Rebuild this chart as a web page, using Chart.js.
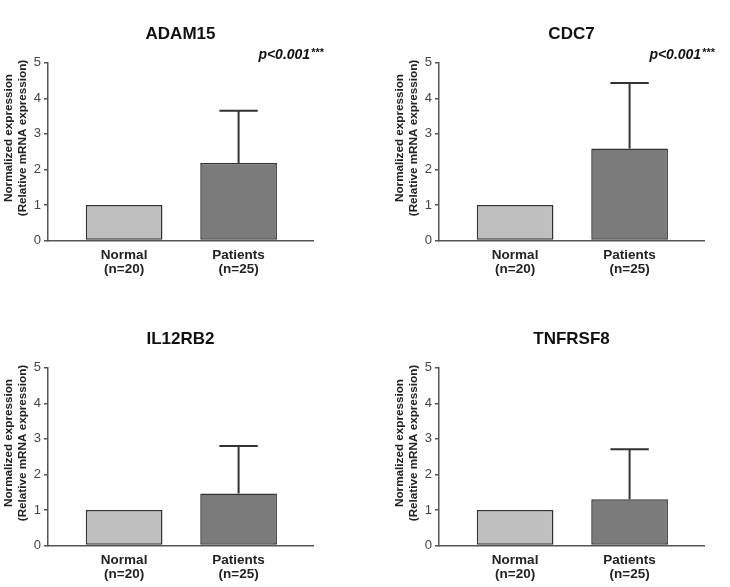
<!DOCTYPE html>
<html>
<head>
<meta charset="utf-8">
<script src="https://cdn.jsdelivr.net/npm/chart.js@4.4.1/dist/chart.umd.min.js"></script>
<style>
  body { margin: 0; background: #fff; width: 730px; height: 587px; overflow: hidden; position: relative; }
  canvas { position: absolute; }
</style>
</head>
<body>
<canvas id="c0" width="335" height="282" style="left:0;top:0"></canvas>
<canvas id="c1" width="335" height="282" style="left:391px;top:0"></canvas>
<canvas id="c2" width="335" height="282" style="left:0;top:305px"></canvas>
<canvas id="c3" width="335" height="282" style="left:391px;top:305px"></canvas>
<script>
// chart data
const panelTitles = ['ADAM15', 'CDC7', 'IL12RB2', 'TNFRSF8'];
const groupLabels = [['Normal', '(n=20)'], ['Patients', '(n=25)']];
const groupPositions = [1, 2];
const meanValues = [
  [1, 2.18],
  [1, 2.59],
  [1, 1.46],
  [1, 1.30]
];
const sdValues = [
  [0, 1.47],
  [0, 1.84],
  [0, 1.34],
  [0, 1.41]
];
const pValueLabels = ['p<0.001', 'p<0.001', '', ''];
const yTicks = [0, 1, 2, 3, 4, 5];
const yTitleLines = ['Normalized expression', '(Relative mRNA expression)'];

const FONT = 'Arial, "Liberation Sans", sans-serif';
const barColors = ['#bfbfbf', '#7b7b7b'];
const inkColor = '#333';

// panel title, y title, p-value and error bars
const decorPlugin = {
  id: 'decor',
  afterDatasetsDraw(chart, args, opts) {
    const ctx = chart.ctx;
    const area = chart.chartArea;
    const xs = chart.scales.x;
    const ys = chart.scales.y;
    const meta = chart.getDatasetMeta(0);
    ctx.save();

    // error bars (upper only)
    ctx.strokeStyle = inkColor;
    ctx.lineWidth = 2;
    opts.means.forEach((m, i) => {
      const sd = opts.sds[i];
      if (!sd) return;
      const bar = meta.data[i];
      const cx = xs.getPixelForValue(groupPositions[i]);
      const yTop = ys.getPixelForValue(m + sd);
      const yBar = ys.getPixelForValue(m);
      const half = bar.width / 4;
      ctx.beginPath();
      ctx.moveTo(cx, yBar);
      ctx.lineTo(cx, yTop);
      ctx.moveTo(cx - half, yTop);
      ctx.lineTo(cx + half, yTop);
      ctx.stroke();
    });

    // title
    ctx.fillStyle = '#111';
    ctx.font = 'bold 17px ' + FONT;
    ctx.textAlign = 'center';
    ctx.textBaseline = 'middle';
    ctx.fillText(opts.title, (area.left + area.right) / 2, 34);

    // y axis title, rotated
    ctx.font = 'bold 11.7px ' + FONT;
    ctx.fillStyle = '#222';
    const yMid = 138;
    [8.5, 23].forEach((x, k) => {
      ctx.save();
      ctx.translate(x, yMid);
      ctx.rotate(-Math.PI / 2);
      ctx.fillText(yTitleLines[k], 0, 0);
      ctx.restore();
    });

    // p-value
    if (opts.pLabel) {
      ctx.textAlign = 'left';
      ctx.textBaseline = 'alphabetic';
      ctx.font = 'italic bold 14px ' + FONT;
      ctx.fillStyle = '#111';
      const pw = ctx.measureText(opts.pLabel).width;
      ctx.font = 'bold 11px ' + FONT;
      const sw = ctx.measureText('***').width;
      const xEnd = area.right + 10;
      const x0 = xEnd - sw - pw;
      ctx.font = 'italic bold 14px ' + FONT;
      ctx.fillText(opts.pLabel, x0, 58.5);
      ctx.font = 'bold 11px ' + FONT;
      ctx.fillText('***', x0 + pw + 1, 56);
    }
    ctx.restore();
  }
};

function buildPanel(idx) {
  const ctx = document.getElementById('c' + idx).getContext('2d');
  const points = groupPositions.map((x, i) => ({ x: x, y: meanValues[idx][i] }));
  return new Chart(ctx, {
    type: 'bar',
    data: {
      datasets: [{
        data: points,
        backgroundColor: barColors,
        borderColor: inkColor,
        borderWidth: 1.5,
        borderSkipped: false,
        barPercentage: 0.67,
        categoryPercentage: 1
      }]
    },
    options: {
      responsive: false,
      devicePixelRatio: 1,
      animation: false,
      layout: { padding: { left: 28, right: 22, top: 62.7, bottom: 0 } },
      plugins: {
        legend: { display: false },
        tooltip: { enabled: false },
        decor: {
          title: panelTitles[idx],
          means: meanValues[idx],
          sds: sdValues[idx],
          pLabel: pValueLabels[idx]
        }
      },
      scales: {
        x: {
          type: 'linear',
          offset: false,
          min: 0.335,
          max: 2.65,
          afterBuildTicks: (scale) => { scale.ticks = groupPositions.map(v => ({ value: v })); },
          afterFit: (scale) => { scale.height = 41.5; },
          grid: { display: false, drawTicks: false },
          border: { display: true, color: '#555', width: 1.5 },
          ticks: {
            padding: 8,
            color: '#222',
            font: { family: FONT, size: 13.5, weight: 'bold', lineHeight: 1.05 },
            callback: (v) => groupLabels[groupPositions.indexOf(v)] || ''
          }
        },
        y: {
          min: 0,
          max: 5,
          afterBuildTicks: (scale) => { scale.ticks = yTicks.map(v => ({ value: v })); },
          afterFit: (scale) => { scale.width = 20; },
          grid: { drawOnChartArea: false, drawTicks: true, tickLength: 4, color: '#555', lineWidth: 1.5 },
          border: { color: '#555', width: 1.5 },
          ticks: {
            padding: 3,
            color: '#444',
            font: { family: FONT, size: 13 }
          }
        }
      }
    },
    plugins: [decorPlugin]
  });
}

panelTitles.forEach((t, i) => buildPanel(i));
</script>
</body>
</html>
